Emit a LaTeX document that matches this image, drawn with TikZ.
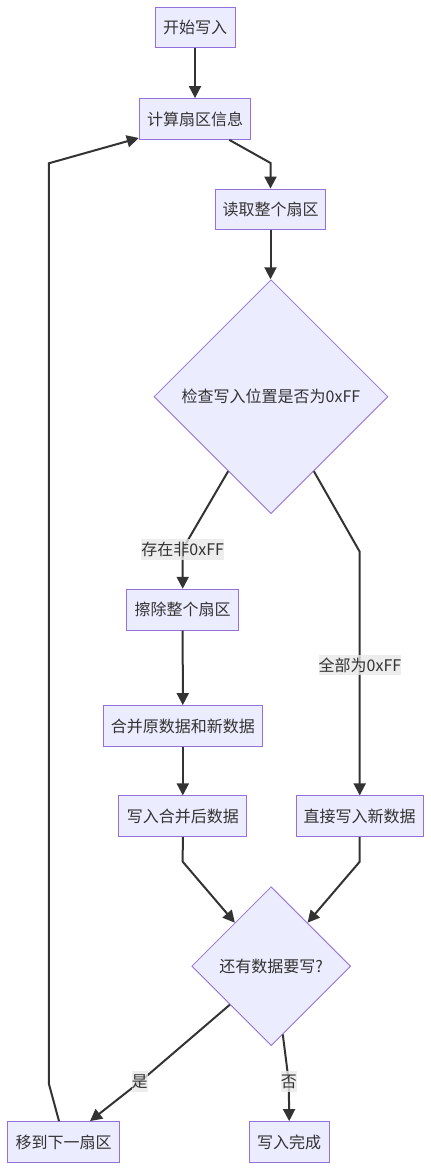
\documentclass[tikz,border=0pt]{standalone}
\usepackage{fontspec}
\setmainfont{Noto Sans CJK SC}
\usetikzlibrary{shapes.geometric,arrows.meta,calc}
\definecolor{nodefill}{HTML}{ECECFF}
\definecolor{nodeborder}{HTML}{9370DB}
\definecolor{linec}{HTML}{333333}
\definecolor{lblbg}{HTML}{E8E8E8}
\begin{document}
\begin{tikzpicture}[x=0.75pt,y=-0.75pt,
  box/.style={draw=nodeborder,fill=nodefill,line width=0.75pt,inner sep=0pt,
    text=linec,font=\fontsize{12}{14}\selectfont,minimum height=30.6pt},
  dec/.style={diamond,draw=nodeborder,fill=nodefill,line width=0.6pt,inner sep=0pt,
    aspect=1,text=linec,font=\fontsize{12}{14}\selectfont},
  conn/.style={draw=linec,line width=1.5pt,-{Triangle[length=9pt,width=9pt]}},
  lbl/.style={fill=lblbg,fill opacity=0.8,text opacity=1,inner xsep=0pt,inner ysep=0pt,
    minimum height=15.5pt,text=linec,font=\fontsize{12}{14}\selectfont}]
\useasboundingbox (0,0) rectangle (431,1170);

\node[box,minimum width=60pt] (start) at (195,27.5) {开始写入};
\node[box,minimum width=83.5pt] (calcn) at (195,119) {计算扇区信息};
\node[box,minimum width=83pt] (read) at (270.5,209.5) {读取整个扇区};
\node[dec,minimum width=175.5pt,minimum height=175.5pt] (chk) at (271,396.7) {检查写入位置是否为0xFF};
\node[box,minimum width=83.7pt] (erase) at (182.7,609.7) {擦除整个扇区};
\node[box,minimum width=119.2pt] (merge) at (182.8,726) {合并原数据和新数据};
\node[box,minimum width=95.8pt] (wm) at (182.8,816.3) {写入合并后数据};
\node[box,minimum width=95.5pt] (direct) at (359.7,816.3) {直接写入新数据};
\node[dec,minimum width=119.2pt,minimum height=119.2pt] (more) at (271.2,966.2) {还有数据要写?};
\node[box,minimum width=83.7pt] (next) at (63.5,1142) {移到下一扇区};
\node[box,minimum width=59.8pt] (done) at (289.2,1142) {写入完成};

% bend points
\coordinate (b1) at (270.5,163);
\coordinate (b2) at (182.7,549);
\coordinate (b3) at (359.7,551.7);
\coordinate (b4) at (182.7,861.7);
\coordinate (b5) at (359.7,861.7);
\coordinate (b6) at (139.7,1082);
\coordinate (b7) at (288.8,1081.7);
\coordinate (b8) at (48.8,1083.5);
\coordinate (b9) at (48.8,163.3);

\draw[conn] (start) -- (calcn);
\draw[conn] ($(calcn.south)+(34.3,0)$) -- (b1) -- (read.north);
\draw[conn] (read.south) -- (read.south |- chk.north);
\draw[conn] ($(chk.south)!0.365!(chk.west)$) -- (b2) -- (erase.north);
\draw[conn] ($(chk.south)!0.365!(chk.east)$) -- (b3) -- (direct.north);
\draw[conn] (erase) -- (merge);
\draw[conn] (merge) -- (wm);
\draw[conn] (wm.south) -- (b4) -- ($(more.north)!0.455!(more.west)$);
\draw[conn] (direct.south) -- (b5) -- ($(more.north)!0.455!(more.east)$);
\draw[conn] ($(more.south)!0.518!(more.west)$) -- (b6) -- ($(next.north)+(26.5,0)$);
\draw[conn] ($(more.south)!0.145!(more.east)$) -- (b7) -- (done.north);
\draw[conn] ($(next.north)+(-4.5,0)$) -- (b8) -- (b9) -- ($(calcn.west)+(0,19)$);

\node[lbl] (l1) at (182.7,549.7) {存在非0xFF};
\node[lbl] (l2) at (360,665) {全部为0xFF};
\node[lbl] (l3) at (139.7,1081.7) {是};
\node[lbl] (l4) at (288.8,1081.7) {否};
\end{tikzpicture}
\end{document}
